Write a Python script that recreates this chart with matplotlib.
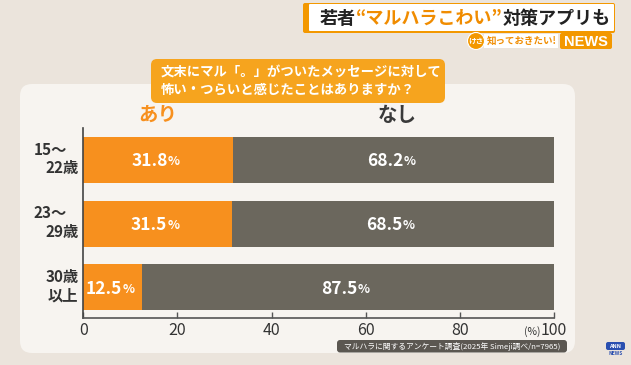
import matplotlib
matplotlib.use('Agg')
import matplotlib.pyplot as plt
from matplotlib.patches import FancyBboxPatch, Rectangle, Circle
from matplotlib.transforms import Affine2D

plt.rcParams['font.family'] = ['Noto Sans CJK JP', 'DejaVu Sans']

# ---- data ----
cat_line1 = ['15〜', '23〜', '30歳']
cat_line2 = ['22歳', '29歳', '以上']
ari = [31.8, 31.5, 12.5]
nashi = [68.2, 68.5, 87.5]
xticks = [0, 20, 40, 60, 80, 100]
series_names = ['あり', 'なし']
question = '文末にマル「。」がついたメッセージに対して\n怖い・つらいと感じたことはありますか？'
title_parts = ['若者', '“マルハラこわい”', '対策アプリも']
source = 'マルハラに関するアンケート調査(2025年 Simeji調べ/n=7965)'

ORANGE = '#f7901e'
GRAY = '#6b675d'
DARK = '#333333'

W, H = 631, 365
fig = plt.figure(figsize=(W / 100, H / 100), dpi=100)
fig.patch.set_facecolor('#ebe4dc')
# pixel transform, y down from top
PX = Affine2D().scale(1 / W, -1 / H).translate(0, 1) + fig.transFigure


def rbox(x0, y0, x1, y1, fc, r=0, ec='none', z=0, lw=0):
    p = FancyBboxPatch((x0, y0), x1 - x0, y1 - y0,
                       boxstyle=f'round,pad=0,rounding_size={r}' if r else 'square,pad=0',
                       transform=PX, fc=fc, ec=ec, lw=lw, zorder=z)
    fig.patches.append(p)
    return p


# background panel
rbox(20, 84, 575, 353, '#f7f4f0', r=12, z=-1)

# question box
rbox(151, 59, 445, 103, '#f6a41e', r=6, z=2)
fig.text(161, 81, question, transform=PX, ha='left', va='center', color='white',
         fontsize=9.6, fontweight='bold', linespacing=1.3, zorder=3)

# title box
rbox(303, 3, 615, 33, '#f39800', r=2, z=2)
rbox(309, 4, 614, 31, 'white', r=1, z=3)
fig.canvas.draw()
renderer = fig.canvas.get_renderer()
x = 320
colors = ['#222222', '#f08c00', '#222222']
for part, c in zip(title_parts, colors):
    t = fig.text(x, 18.5, part, transform=PX, ha='left', va='center', color=c,
                 fontsize=13, fontweight='bold', zorder=4)
    bb = t.get_window_extent(renderer)
    x += bb.width

# sub title row
rbox(484, 34, 558, 48, 'white', z=2)
c = Circle((476, 41), 8.5, transform=PX, fc='#f39800', ec='white', lw=0.8, zorder=3)
fig.patches.append(c)
fig.text(476, 41, 'けさ', transform=PX, ha='center', va='center', color='white',
         fontsize=5.5, fontweight='bold', zorder=4)
fig.text(522, 41, '知っておきたい!', transform=PX, ha='center', va='center',
         color='#f08c00', fontsize=6.8, fontweight='bold', zorder=4)
rbox(560, 33, 612, 49, '#f39800', r=2, z=2)
fig.text(586, 41.5, 'NEWS', transform=PX, ha='center', va='center', color='white',
         fontsize=10.5, fontweight='bold', family='Liberation Sans', zorder=4)

# ---- chart ----
ax = fig.add_axes([83.3 / W, 1 - 318 / H, (554 - 83.3) / W, (318 - 128) / H])
ax.set_zorder(5)
ax.set_facecolor('none')
y = list(range(len(ari)))
ax.barh(y, ari, height=0.72, color=ORANGE, zorder=2)
ax.barh(y, nashi, left=ari, height=0.72, color=GRAY, zorder=2)
ax.set_xlim(0, 100)
ax.set_ylim(2.48, -0.5)

for i in y:
    for left, val in ((0, ari[i]), (ari[i], nashi[i])):
        cx = left + val / 2
        ax.annotate(f'{val:.1f}', xy=(cx, i), xytext=(7, -1), textcoords='offset points',
                    ha='right', va='center', color='white', fontsize=12.5,
                    fontweight='bold', zorder=3)
        ax.annotate('%', xy=(cx, i), xytext=(7, -1.5), textcoords='offset points',
                    ha='left', va='center', color='white', fontsize=9,
                    fontweight='bold', zorder=3)
    # category labels
    off1 = -12 if cat_line1[i].endswith('〜') else -3.5
    ax.annotate(cat_line1[i], xy=(0, i), xytext=(off1, 7.3), textcoords='offset points',
                ha='right', va='center', color=DARK, fontsize=11, fontweight='bold',
                annotation_clip=False)
    ax.annotate(cat_line2[i], xy=(0, i), xytext=(-3.5, -6.2), textcoords='offset points',
                ha='right', va='center', color=DARK, fontsize=11, fontweight='bold',
                annotation_clip=False)

# series headers
ax.annotate(series_names[0], xy=(ari[0] / 2, 1), xycoords=('data', 'axes fraction'),
            xytext=(0, 2), textcoords='offset points', ha='center', va='bottom',
            color=ORANGE, fontsize=14, fontweight='bold', annotation_clip=False)
ax.annotate(series_names[1], xy=(ari[0] + nashi[0] / 2, 1), xycoords=('data', 'axes fraction'),
            xytext=(3, 2), textcoords='offset points', ha='center', va='bottom',
            color='#3a3a3a', fontsize=14, fontweight='bold', annotation_clip=False)

for s in ('top', 'right'):
    ax.spines[s].set_visible(False)
ax.spines['left'].set_color('#444444')
ax.spines['left'].set_linewidth(1.2)
ax.spines['bottom'].set_color('#555555')
ax.spines['bottom'].set_linewidth(1.2)
ax.set_yticks([])
ax.set_xticks(xticks)
ax.set_xticklabels([str(v) for v in xticks])
ax.tick_params(axis='x', direction='in', length=4, width=1, color='#555555',
               labelsize=11.5, labelcolor=DARK, pad=3)
ax.annotate('(%)', xy=(100, 0), xycoords=('data', 'axes fraction'), xytext=(-10, -10),
            textcoords='offset points', ha='right', va='center', color=DARK, fontsize=7.5,
            annotation_clip=False)

# source box
rbox(337, 340, 567, 352.5, '#5b5751', r=3, z=2)
fig.text(452, 346.3, source, transform=PX, ha='center', va='center', color='white',
         fontsize=5.6, zorder=3)

# ANN logo
rbox(606, 342, 625, 350, '#2a4fb0', r=2, z=2)
fig.text(615.5, 346, 'ANN', transform=PX, ha='center', va='center', color='white',
         fontsize=4, fontweight='bold', zorder=3)
fig.text(615.5, 353.5, 'NEWS', transform=PX, ha='center', va='center', color='#2a4fb0',
         fontsize=3.5, fontweight='bold', zorder=3)

fig.savefig('out.png', dpi=100, facecolor=fig.get_facecolor())
